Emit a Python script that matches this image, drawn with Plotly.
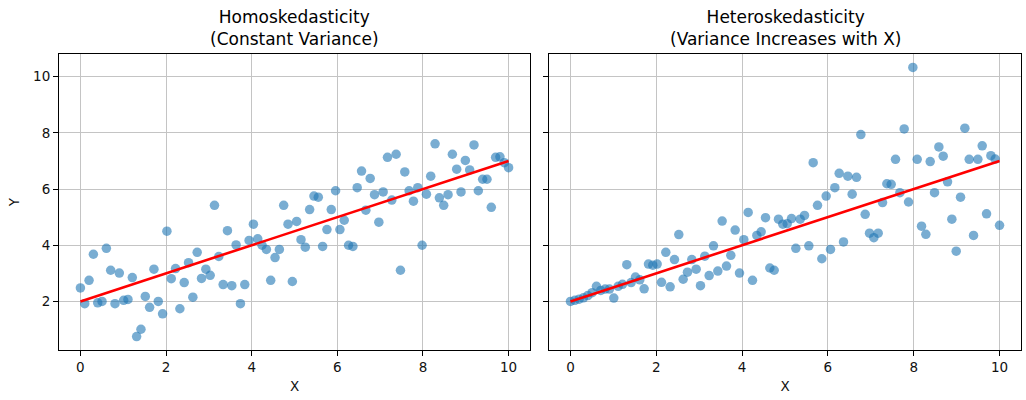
import plotly.graph_objects as go

X = [i * 10 / 99 for i in range(100)]

Y_homo = [2.48, 1.92, 2.75, 3.68, 1.95, 2.00, 3.89, 3.11, 1.92, 3.01,
          2.04, 2.07, 2.85, 0.75, 1.01, 2.18, 1.79, 3.15, 2.00, 1.56,
          4.50, 2.81, 3.17, 1.74, 2.67, 3.38, 2.15, 3.75, 2.82, 3.15,
          2.93, 5.42, 3.60, 2.60, 4.52, 2.56, 4.01, 1.92, 2.60, 4.17,
          4.75, 4.23, 4.00, 3.85, 2.75, 3.56, 3.85, 5.42, 4.75, 2.71,
          4.85, 4.20, 3.93, 5.27, 5.75, 5.71, 3.96, 4.56, 5.27, 5.94,
          4.56, 4.89, 4.00, 3.96, 6.05, 6.64, 5.25, 6.38, 5.80, 4.82,
          5.90, 7.13, 5.61, 7.24, 3.11, 6.61, 5.94, 5.57, 6.05, 4.00,
          5.82, 6.46, 7.61, 5.69, 5.42, 5.80, 7.24, 6.71, 5.90, 7.02,
          6.68, 7.57, 5.94, 6.35, 6.35, 5.35, 7.13, 7.15, 6.94, 6.76]

Y_hetero = [2.00, 2.04, 2.08, 2.13, 2.21, 2.31, 2.54, 2.39, 2.44, 2.44,
            2.12, 2.54, 2.61, 3.31, 2.67, 2.87, 2.77, 2.45, 3.33, 3.29,
            3.33, 2.68, 3.75, 2.52, 3.49, 4.38, 2.79, 3.04, 3.49, 3.15,
            2.56, 3.61, 2.92, 3.98, 3.08, 4.86, 3.26, 3.64, 4.54, 3.01,
            4.20, 5.17, 2.75, 4.35, 4.48, 4.98, 3.19, 3.11, 4.93, 4.75,
            4.77, 4.95, 3.89, 4.93, 5.06, 3.98, 6.94, 5.42, 3.52, 5.75,
            3.85, 6.05, 6.56, 4.12, 6.46, 5.82, 6.42, 7.94, 5.10, 4.43,
            4.27, 4.43, 5.52, 6.19, 6.17, 7.06, 5.87, 8.14, 5.54, 10.33,
            7.06, 4.68, 4.39, 6.98, 5.87, 7.50, 7.17, 6.26, 4.93, 3.79,
            5.71, 8.17, 7.06, 4.35, 7.06, 7.54, 5.12, 7.19, 7.07, 4.71]

line_x = [0, 10]
line_y = [2, 7]

titles = ["Homoskedasticity<br>(Constant Variance)",
          "Heteroskedasticity<br>(Variance Increases with X)"]
x_ticks = [0, 2, 4, 6, 8, 10]
y_ticks = [2, 4, 6, 8, 10]

FONT = "DejaVu Sans"
ymin = min(min(Y_homo), min(Y_hetero))
ymax = max(max(Y_homo), max(Y_hetero))
pad = 0.05 * (ymax - ymin)
yrange = [ymin - pad, ymax + pad]

fig = go.Figure()
for k, (ys, xa, ya) in enumerate([(Y_homo, "x", "y"), (Y_hetero, "x2", "y2")]):
    fig.add_trace(go.Scatter(
        x=X, y=ys, mode="markers", xaxis=xa, yaxis=ya,
        marker=dict(color="rgba(31,119,180,0.6)", size=9.5, line=dict(width=0)),
        showlegend=False, hoverinfo="skip"))
    fig.add_trace(go.Scatter(
        x=line_x, y=line_y, mode="lines", xaxis=xa, yaxis=ya,
        line=dict(color="red", width=2.6), showlegend=False, hoverinfo="skip"))

axis_common = dict(
    showline=True, linecolor="black", linewidth=1.1, mirror=True,
    ticks="outside", ticklen=5, tickwidth=1.1, tickcolor="black",
    showgrid=True, gridcolor="#c4c4c4", gridwidth=1.1, zeroline=False,
    automargin=False,
    tickfont=dict(family=FONT, size=13.5, color="#111"),
)

d1 = [0, 471 / 962]
d2 = [490 / 962, 1]
fig.update_layout(
    width=1026, height=400,
    margin=dict(l=59, r=5, t=54, b=50, autoexpand=False),
    paper_bgcolor="white", plot_bgcolor="white",
    font=dict(family=FONT, size=13, color="#111"),
    xaxis=dict(domain=d1, range=[-0.5, 10.5], tickvals=x_ticks,
               title=dict(text="X", font=dict(family=FONT, size=13.5), standoff=7),
               anchor="y", **axis_common),
    xaxis2=dict(domain=d2, range=[-0.5, 10.5], tickvals=x_ticks,
                title=dict(text="X", font=dict(family=FONT, size=13.5), standoff=7),
                anchor="y2", **axis_common),
    yaxis=dict(domain=[0, 1], range=yrange, tickvals=y_ticks, anchor="x",
               title=dict(text="Y", font=dict(family=FONT, size=13.5), standoff=10),
               **axis_common),
    yaxis2=dict(domain=[0, 1], range=yrange, tickvals=y_ticks, anchor="x2",
                showticklabels=False, **axis_common),
)

for d, t in zip([d1, d2], titles):
    fig.add_annotation(
        text=t, xref="paper", yref="paper", x=(d[0] + d[1]) / 2, y=1,
        xanchor="center", yanchor="bottom", yshift=3, showarrow=False,
        font=dict(family=FONT, size=17, color="black"), align="center")

fig.write_html(
    "out.html",
    config={"displayModeBar": False},
    post_script="document.body.style.margin='0px';document.body.style.overflow='hidden';",
)
